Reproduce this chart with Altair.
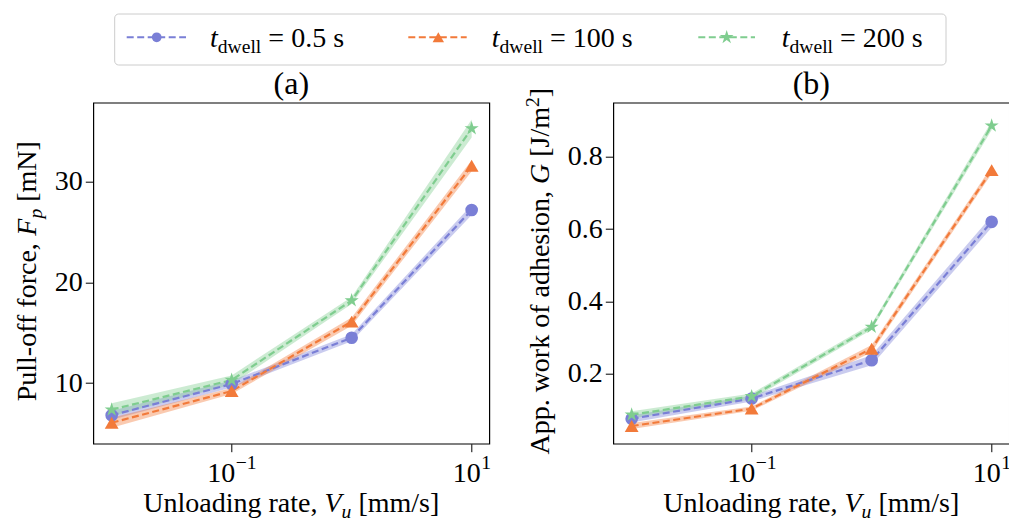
import math
import altair as alt
import pandas as pd

# ---------------- data ----------------
series = ["0.5 s", "100 s", "200 s"]
rate = [0.01, 0.1, 1.0, 10.0]

force_05 = [6.8, 9.9, 14.5, 27.2]
force_100 = [6.05, 9.2, 16.1, 31.6]
force_200 = [7.35, 10.3, 18.2, 35.3]
force_err_05 = [0.45, 0.35, 0.35, 0.5]
force_err_100 = [0.5, 0.3, 0.4, 0.55]
force_err_200 = [0.65, 0.45, 0.35, 0.9]

work_05 = [0.075, 0.131, 0.237, 0.62]
work_100 = [0.055, 0.103, 0.269, 0.763]
work_200 = [0.086, 0.137, 0.329, 0.886]
work_err_05 = [0.010, 0.008, 0.014, 0.016]
work_err_100 = [0.008, 0.006, 0.010, 0.010]
work_err_200 = [0.010, 0.008, 0.008, 0.012]

force_ticks = [10, 20, 30]
work_ticks = [0.2, 0.4, 0.6, 0.8]
x_ticks = [0.1, 10]
x_tick_exp = ["\u22121", "1"]

colors = ["#7a7fd6", "#f27a3a", "#7fcd8f"]

# ---------------- layout constants ----------------
W, H = 396, 341
FONT = "'Liberation Serif', 'Times New Roman', Times, 'DejaVu Serif', serif"
FS = 28
XDOM = [10 ** -2.153, 10 ** 1.147]


def star_path(n=5, inner=0.382):
    pts = []
    for k in range(2 * n):
        r = 1.0 if k % 2 == 0 else inner
        a = -math.pi / 2 + k * math.pi / n
        pts.append((r * math.cos(a), r * math.sin(a)))
    return "M" + "L".join(f"{x:.3f},{y:.3f}" for x, y in pts) + "Z"


shapes = ["circle", "triangle-up", star_path()]
sizes = [160, 220, 340]
legend_sizes = [95, 130, 210]

COLOR = alt.Color("series:N", scale=alt.Scale(domain=series, range=colors), legend=None)
SHAPE = alt.Shape("series:N", scale=alt.Scale(domain=series, range=shapes), legend=None)
SIZE = alt.Size("series:N", scale=alt.Scale(domain=series, range=sizes), legend=None)

# Times / Liberation Serif advance widths (per 1000 em)
REG = {' ': 250, '(': 333, ')': 333, ',': 250, '-': 333, '.': 250, '/': 278, '=': 564,
       '[': 333, ']': 333, '\u2212': 564, 'A': 722, 'F': 556, 'G': 722, 'J': 389,
       'N': 722, 'P': 556, 'U': 722, 'V': 722, 'a': 444, 'c': 444, 'd': 500, 'e': 444,
       'f': 333, 'g': 500, 'h': 500, 'i': 278, 'k': 500, 'l': 278, 'm': 778, 'n': 500,
       'o': 500, 'p': 500, 'r': 333, 's': 389, 't': 278, 'u': 500, 'w': 722}
ITA = {'F': 611, 'G': 722, 'V': 611, 't': 278, 'p': 500, 'u': 500}


def tw(s, italic, size):
    tab = ITA if italic else REG
    return sum(tab.get(c, REG.get(c, 500)) for c in s) / 1000.0 * size


def pieces(parts, size, anchor, base, rotated=False, centered=True):
    """parts: list of (text, italic, kind) with kind '', 'sub' or 'sup'."""
    szs = [size * 0.7 if k else size for _, _, k in parts]
    wids = [tw(t, i, s) for (t, i, _), s in zip(parts, szs)]
    pos = -sum(wids) / 2 if centered else 0.0
    rows = []
    for (t, i, k), s, w in zip(parts, szs, wids):
        lead = len(t) - len(t.lstrip(' '))
        p = pos + tw(' ' * lead, False, s)
        shift = {"": 0.0, "sub": 0.22 * size, "sup": -0.38 * size}[k]
        txt = t.strip(' ')
        if txt:
            if rotated:
                rows.append(dict(text=txt, px=base + shift, py=anchor - p, size=s, angle=270, italic=i))
            else:
                rows.append(dict(text=txt, px=anchor + p, py=base + shift, size=s, angle=0, italic=i))
        pos += w
    return rows


def text_layers(rows):
    out = []
    for it in (False, True):
        sub = [r for r in rows if r["italic"] == it]
        if not sub:
            continue
        out.append(
            alt.Chart(pd.DataFrame(sub)).mark_text(
                align="left", baseline="alphabetic", font=FONT,
                fontStyle="italic" if it else "normal", color="black"
            ).encode(
                x=alt.X("px:Q", scale=None),
                y=alt.Y("py:Q", scale=None),
                text="text:N",
                size=alt.Size("size:Q", scale=None),
                angle=alt.Angle("angle:Q", scale=None),
            )
        )
    return out


def make_df(means, errs):
    rows = []
    for s, m, e in zip(series, means, errs):
        for r, v, d in zip(rate, m, e):
            rows.append(dict(series=s, rate=r, value=v, lo=v - d, hi=v + d))
    return pd.DataFrame(rows)


def panel(df, ydom, yticks, yfmt, title, ytitle_parts, ytitle_x, legend=False):
    xscale = alt.Scale(type="log", domain=XDOM, nice=False)
    xaxis = alt.Axis(values=x_ticks, labels=False, title=None, grid=False, domain=False,
                     tickSize=8, tickColor="black", tickWidth=1)
    X = alt.X("rate:Q", scale=xscale, axis=xaxis)
    yscale = alt.Scale(domain=ydom, nice=False, zero=False)
    yaxis = alt.Axis(values=yticks, format=yfmt, title=None, grid=False, domain=False,
                     tickSize=8, tickColor="black", tickWidth=1, labelFont=FONT,
                     labelFontSize=FS, labelColor="black", labelPadding=3)

    base = alt.Chart(df)
    band = base.mark_area(opacity=0.4).encode(
        x=X, y=alt.Y("lo:Q", scale=yscale, axis=yaxis), y2="hi:Q", color=COLOR)
    line = base.mark_line(strokeDash=[7, 3.5], strokeWidth=2.2).encode(
        x=X, y=alt.Y("value:Q", scale=yscale, axis=yaxis), color=COLOR)
    pts = base.mark_point(filled=True, opacity=1, strokeWidth=0).encode(
        x=X, y=alt.Y("value:Q", scale=yscale, axis=yaxis), color=COLOR, shape=SHAPE, size=SIZE)

    layers = [band, line, pts]

    # x tick labels 10^e, placed through the x scale
    for v, e in zip(x_ticks, x_tick_exp):
        w10 = tw("10", False, FS)
        wsup = tw(e, False, FS * 0.7)
        off = (w10 - wsup) / 2
        tdf = pd.DataFrame({"rate": [v], "b": ["10"], "e": [e]})
        layers.append(alt.Chart(tdf).mark_text(
            align="right", baseline="alphabetic", dx=off, font=FONT, fontSize=FS, color="black"
        ).encode(x=X, y=alt.value(H + 38), text="b:N"))
        layers.append(alt.Chart(tdf).mark_text(
            align="left", baseline="alphabetic", dx=off + 0.5, font=FONT, fontSize=FS * 0.7, color="black"
        ).encode(x=X, y=alt.value(H + 25), text="e:N"))

    # axis titles
    rows = pieces([("Unloading rate, ", False, ""), ("V", True, ""), ("u", True, "sub"),
                   (" [mm/s]", False, "")], FS, W / 2, H + 68)
    rows += pieces(ytitle_parts, FS, H / 2 - 2, ytitle_x, rotated=True)
    layers += text_layers(rows)

    # panel title
    layers.append(alt.Chart(pd.DataFrame({"t": [title]})).mark_text(
        align="center", baseline="alphabetic", font=FONT, fontSize=32, color="black"
    ).encode(x=alt.value(W / 2), y=alt.value(-9), text="t:N"))

    if legend:
        box = alt.Chart(pd.DataFrame({"a": [0]})).mark_rect(
            fill="white", stroke="#cccccc", strokeWidth=1, cornerRadius=4
        ).encode(x=alt.value(21.4), x2=alt.value(852.7), y=alt.value(-88.7), y2=alt.value(-37.7))
        line_x0 = [33.4, 315.0, 605.0]
        line_x1 = [92.7, 373.4, 661.7]
        mark_x = [63.4, 345.0, 633.4]
        label_x = [116.7, 398.4, 688.4]
        ldf = pd.DataFrame({"series": series, "x0": line_x0, "x1": line_x1,
                            "mx": mark_x, "y": [-65.4] * 3, "ms": legend_sizes})
        lline = alt.Chart(ldf).mark_rule(strokeDash=[7, 3.5], strokeWidth=2).encode(
            x=alt.X("x0:Q", scale=None), x2="x1:Q", y=alt.Y("y:Q", scale=None), color=COLOR)
        lpts = alt.Chart(ldf).mark_point(filled=True, opacity=1, strokeWidth=0).encode(
            x=alt.X("mx:Q", scale=None), y=alt.Y("y:Q", scale=None),
            color=COLOR, shape=SHAPE, size=alt.Size("ms:Q", scale=None))
        lrows = []
        for lx, s in zip(label_x, series):
            lrows += pieces([("t", True, ""), ("dwell", False, "sub"), (" = " + s, False, "")],
                            FS, lx, -55.7, centered=False)
        layers += [box, lline, lpts] + text_layers(lrows)

    return alt.layer(*layers).properties(width=W, height=H)


force_df = make_df([force_05, force_100, force_200], [force_err_05, force_err_100, force_err_200])
work_df = make_df([work_05, work_100, work_200], [work_err_05, work_err_100, work_err_200])

pa = panel(force_df, [3.97, 37.86], force_ticks, "d", "(a)",
           [("Pull-off force, ", False, ""), ("F", True, ""), ("p", True, "sub"), (" [mN]", False, "")],
           -57, legend=True)
pb = panel(work_df, [0.006, 0.9496], work_ticks, ".1f", "(b)",
           [("App. work of adhesion, ", False, ""), ("G", True, ""), (" [J/m", False, ""),
            ("2", False, "sup"), ("]", False, "")],
           -64)

chart = alt.hconcat(pa, pb, spacing=124, bounds="flush").properties(
    autosize=alt.AutoSizeParams(type="none"),
    padding={"left": 93.3, "top": 102.7, "right": 915.7, "bottom": 418.3},
).configure_view(stroke="black", strokeWidth=1.2)

chart.save("out.html", embed_options={"renderer": "svg", "actions": False})
